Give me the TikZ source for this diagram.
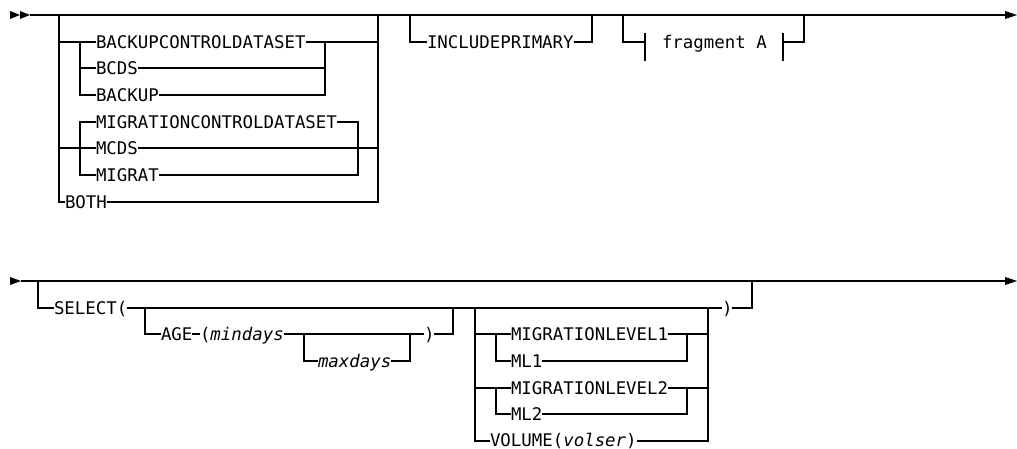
\documentclass[tikz,border=0pt]{standalone}
\usepackage{fontspec}
\setmonofont{DejaVu Sans Mono}
\usetikzlibrary{calc}
\tikzset{
  kw/.style={anchor=west, inner sep=0pt, outer sep=0pt,
    font=\ttfamily\fontsize{17.4}{20}\selectfont, text height=12.7pt, text depth=0pt},
  rail/.style={line width=1.3pt, line cap=butt, line join=miter},
  tip/.style={fill=black}
}
\begin{document}
\begin{tikzpicture}[x=1pt,y=-1pt]
\useasboundingbox (0,0) rectangle (1017,449);
% ---------------- row 1 ----------------
\coordinate (s1) at (30,15);
\coordinate (e1) at (1005,15);
\fill[tip] (10,11) -- (20,15) -- (10,19) -- cycle;
\fill[tip] (20,11) -- (30,15) -- (20,19) -- cycle;
\draw[rail] (s1) -- (e1);
\fill[tip,shift={(e1)}] (0,-4) -- (12,0) -- (0,4) -- cycle;

% group 1
\coordinate (g1l) at (59,15);
\coordinate (g1r) at (378,15);
\node[kw] (bcd)  at (96,42)  {BACKUPCONTROLDATASET};
\node[kw] (bcds) at (96,68)  {BCDS};
\node[kw] (bkp)  at (96,95)  {BACKUP};
\node[kw] (mcd)  at (96,122) {MIGRATIONCONTROLDATASET};
\node[kw] (mcds) at (96,148) {MCDS};
\node[kw] (mig)  at (96,175) {MIGRAT};
\node[kw] (both) at (65,202) {BOTH};
\draw[rail] (g1l) |- (both.west);
\draw[rail] (both.east) -| (g1r);
% backup sub-group
\coordinate (bl) at (80,42);
\coordinate (br) at (325,42);
\draw[rail] (g1l |- bcd.west) -- (bcd.west);
\draw[rail] (bl) |- (bkp.west);
\draw[rail] (bl |- bcds.west) -- (bcds.west);
\draw[rail] (bcd.east) -- (br) -- (g1r |- br);
\draw[rail] (bcds.east) -- (br |- bcds.east);
\draw[rail] (bkp.east) -| (br);
% migration sub-group
\coordinate (ml) at (80,122);
\coordinate (mr) at (358,122);
\draw[rail] (mcd.west) -- (ml) |- (mig.west);
\draw[rail] (g1l |- mcds.west) -- (mcds.west);
\draw[rail] (mcds.east) -- (g1r |- mcds.east);
\draw[rail] (mcd.east) -- (mr) |- (mig.east);

% INCLUDEPRIMARY
\node[kw] (inc) at (427,42) {INCLUDEPRIMARY};
\coordinate (il) at (410,15);
\coordinate (ir) at (592,15);
\draw[rail] (il) |- (inc.west);
\draw[rail] (inc.east) -| (ir);

% fragment A
\node[kw] (frag) at (662,42) {fragment A};
\coordinate (fl) at (623,15);
\coordinate (fr) at (804,15);
\coordinate (ftl) at (645,42);
\coordinate (ftr) at (783,42);
\draw[rail] (fl) |- (ftl);
\draw[rail] ($(ftl)+(0,-9)$) -- ($(ftl)+(0,19)$);
\draw[rail] ($(ftr)+(0,-9)$) -- ($(ftr)+(0,19)$);
\draw[rail] (ftr) -| (fr);

% ---------------- row 2 ----------------
\coordinate (s2) at (21,281);
\coordinate (e2) at (1005,281);
\fill[tip] (10,277) -- (21,281) -- (10,285) -- cycle;
\draw[rail] (s2) -- (e2);
\fill[tip,shift={(e2)}] (0,-4) -- (12,0) -- (0,4) -- cycle;

% SELECT
\node[kw] (sel) at (54,308) {SELECT(};
\coordinate (sl) at (38,281);
\coordinate (sr) at (752,281);
\draw[rail] (sl) |- (sel.west);
\node[kw] (rp2) at (722,308) {)};
\draw[rail] (sel.east) -- (rp2.west);
\draw[rail] (rp2.east) -| (sr);

% AGE
\coordinate (al) at (145,308);
\coordinate (ar) at (453,308);
\node[kw] (age)  at (161,334) {AGE};
\node[kw] (mind) at (200,334) {(\textit{mindays}};
\node[kw] (rp1)  at (424,334) {)};
\draw[rail] (al) |- (age.west);
\draw[rail] (age.east) -- (mind.west);
\draw[rail] (mind.east) -- (rp1.west);
\draw[rail] (rp1.east) -| (ar);
\coordinate (xl) at (304,334);
\coordinate (xr) at (410,334);
\node[kw] (maxd) at (318,361) {\textit{maxdays}};
\draw[rail] (xl) |- (maxd.west);
\draw[rail] (maxd.east) -| (xr);

% migration levels / volume
\coordinate (vl) at (475,308);
\coordinate (vr) at (708,308);
\node[kw] (ml1a) at (511,334) {MIGRATIONLEVEL1};
\node[kw] (ml1b) at (511,361) {ML1};
\node[kw] (ml2a) at (511,388) {MIGRATIONLEVEL2};
\node[kw] (ml2b) at (511,414) {ML2};
\node[kw,text height=11pt] (vol)  at (490,441) {VOLUME(\textit{volser})};
\draw[rail] (vl) |- (vol.west);
\draw[rail] (vol.east) -| (vr);
\coordinate (l1l) at (496,334);
\coordinate (l1r) at (687,334);
\draw[rail] (vl |- l1l) -- (ml1a.west);
\draw[rail] (l1l) |- (ml1b.west);
\draw[rail] (ml1a.east) -- (vr |- l1r);
\draw[rail] (ml1b.east) -| (l1r);
\coordinate (l2l) at (496,388);
\coordinate (l2r) at (687,388);
\draw[rail] (vl |- l2l) -- (ml2a.west);
\draw[rail] (l2l) |- (ml2b.west);
\draw[rail] (ml2a.east) -- (vr |- l2r);
\draw[rail] (ml2b.east) -| (l2r);
\end{tikzpicture}
\end{document}
